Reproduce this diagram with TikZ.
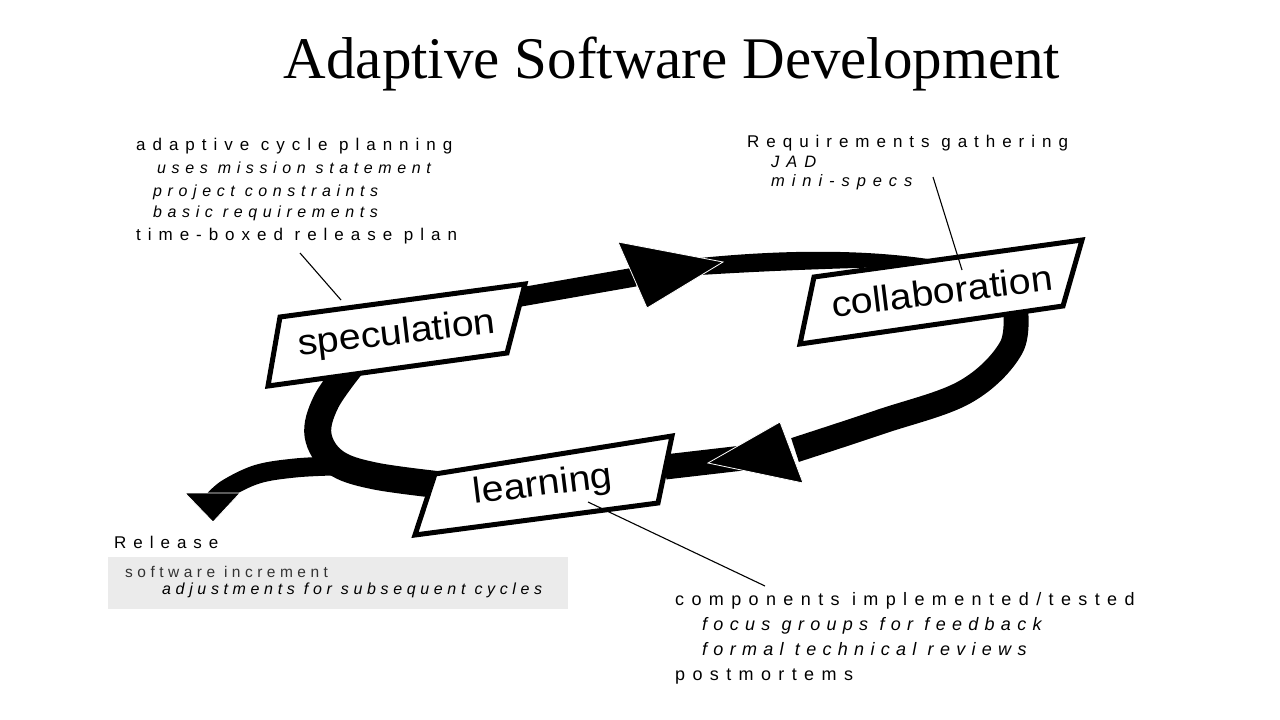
\documentclass[tikz,border=0pt]{standalone}
\usepackage{fontspec}
\setmainfont{Liberation Sans}
\newfontfamily\titlefont{Liberation Serif}
\newfontfamily\hdfont[LetterSpace=41]{Liberation Sans}
\newfontfamily\itfont[LetterSpace=35]{Liberation Sans}
\newfontfamily\rqfont[LetterSpace=42]{Liberation Sans}
\newfontfamily\cfont[LetterSpace=41]{Liberation Sans}
\newfontfamily\cifont[LetterSpace=35]{Liberation Sans}
\newfontfamily\gfont[LetterSpace=29]{Liberation Sans}
\newfontfamily\boxfont[FakeStretch=1.09]{Liberation Sans}
\definecolor{panel}{HTML}{EBEBEB}
\definecolor{soft}{HTML}{333333}
\begin{document}
\begin{tikzpicture}[x=1pt,y=-1pt,
  hd/.style={anchor=base west,inner sep=0pt,font=\hdfont\fontsize{17}{20}\selectfont},
  it/.style={anchor=base west,inner sep=0pt,font=\itfont\itshape\fontsize{16}{19}\selectfont},
  rqit/.style={anchor=base west,inner sep=0pt,font=\rqfont\itshape\fontsize{16.5}{19}\selectfont},
  cf/.style={anchor=base west,inner sep=0pt,font=\cfont\fontsize{18}{21}\selectfont},
  cit/.style={anchor=base west,inner sep=0pt,font=\cifont\itshape\fontsize{18}{21}\selectfont},
  gf/.style={anchor=base west,inner sep=0pt,text=soft,font=\gfont\fontsize{15.5}{18}\selectfont},
  gfit/.style={anchor=base west,inner sep=0pt,font=\gfont\itshape\fontsize{16}{19}\selectfont},
  band/.style={line width=#1,draw=black},
  head/.style={fill=black,draw=white,line width=0.8pt,line join=miter},
  box/.style={draw=black,fill=white,line width=5pt,line join=miter},
  boxlabel/.style={inner sep=0pt,font=\boxfont\fontsize{36}{40}\selectfont},
  lead/.style={line width=1.1pt}
]
\useasboundingbox (0,0) rectangle (1280,720);
\fill[white] (0,0) rectangle (1280,720);

% title
\node[font=\titlefont\fontsize{59}{61}\selectfont,anchor=base,inner sep=0pt] (title) at (672,78) {Adaptive Software Development};

% bands
\draw[band=19] (515,298) -- (635,277);
\fill (700,258) .. controls (780,250) and (860,249) .. (928,259) -- (928,266) .. controls (850,268) and (780,270) .. (700,275) -- cycle;
\fill[head] (618,242) -- (723,262) -- (647,308) -- cycle;

\draw[band=25] plot[smooth,tension=0.6] coordinates {(1015,305) (1011,348) (965,392) (880,422) (795,450)};
\draw[band=25] (665,467) -- (760,456);
\fill[head] (780,422) -- (708,463) -- (803,483) -- cycle;

\draw[band=27] plot[smooth,tension=0.6] coordinates {(352,365) (326,402) (318,435) (335,462) (375,476) (450,486)};
\draw[band=19] plot[smooth,tension=0.6] coordinates {(332,466) (295,468) (258,474) (228,488) (214,500)};
\fill[head] (185,493) -- (240,493) -- (213,522) -- cycle;

% boxes
\draw[box] (280,317) -- (525,284) -- (507,353) -- (268,386) -- cycle;
\node[boxlabel,rotate=6.5] (spec) at (397,335) {speculation};
\draw[box] (814,277) -- (1082,240) -- (1063,306) -- (800,344) -- cycle;
\node[boxlabel,rotate=7] (collab) at (942,291) {collaboration};
\draw[box] (435,474) -- (672,436) -- (658,503) -- (415,535) -- cycle;
\node[boxlabel,rotate=7] (learn) at (543,486) {learning};

% top-left block
\node[hd] (acp) at (136,150) {adaptive cycle planning};
\node[it] (ums) at (157,173) {uses mission statement};
\node[it] (pc) at (153,196) {project constraints};
\node[it] (br) at (153,217) {basic requirements};
\node[hd] (tbrp) at (136,240) {time-boxed release plan};

% top-right block
\node[hd] (rg) at (747,147) {Requirements gathering};
\node[rqit] (jad) at (771,167) {JAD};
\node[rqit] (ms) at (771,186) {mini-specs};

% bottom-right block
\node[cf] (ci) at (675,605) {components implemented/tested};
\node[cit] (fg) at (702,630) {focus groups for feedback};
\node[cit] (ftr) at (702,655) {formal technical reviews};
\node[cf] (pm) at (675,680) {postmortems};

% release block
\node[hd] (rel) at (114,548) {Release};
\fill[panel] (108,557) rectangle (568,609);
\node[gf] (si) at (125,577) {software increment};
\node[gfit] (adj) at (162,594) {adjustments for subsequent cycles};

% leaders
\coordinate (l1a) at (300,253); \coordinate (l1b) at (341,300);
\coordinate (l2a) at (933,177); \coordinate (l2b) at (962,270);
\coordinate (l3a) at (588,502); \coordinate (l3b) at (765,586);
\draw[lead] (l1a) -- (l1b);
\draw[lead] (l2a) -- (l2b);
\draw[lead] (l3a) -- (l3b);
\end{tikzpicture}
\end{document}
